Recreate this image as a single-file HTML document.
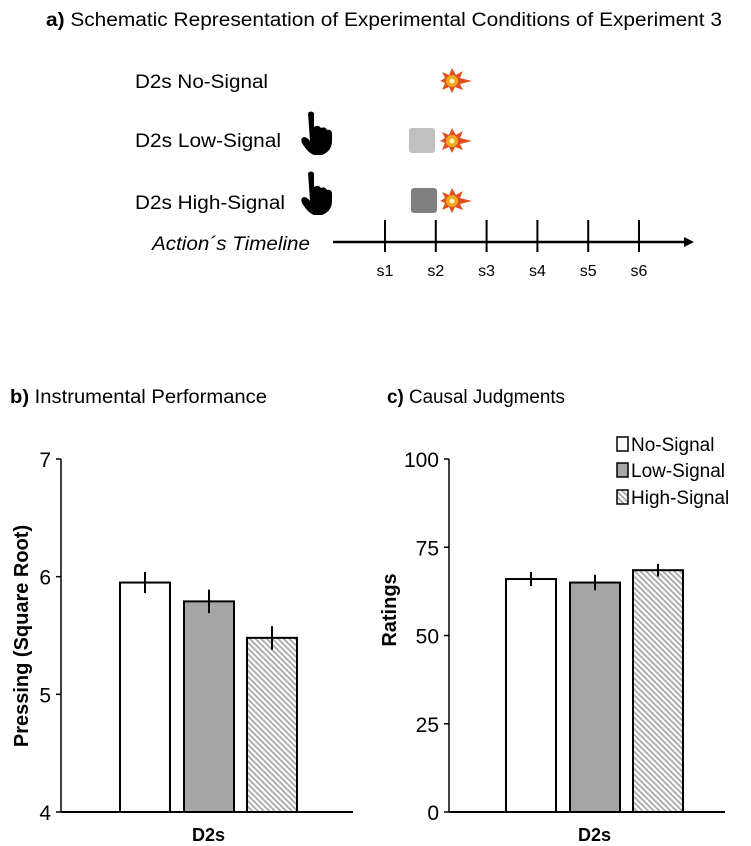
<!DOCTYPE html>
<html><head><meta charset="utf-8"><style>
body{margin:0;background:#fff}
svg{display:block;font-family:"Liberation Sans",Arial,sans-serif}
</style></head><body>
<svg id="fig" width="751" height="846" viewBox="0 0 751 846">
<defs>
<pattern id="hatch" width="4" height="4" patternUnits="userSpaceOnUse" patternTransform="rotate(-45)">
<rect width="4" height="4" fill="#fff"/><rect width="1.8" height="4" fill="#a8a8a8"/></pattern>
<g id="boom"><polygon points="0,-13 4,-6 11,-10 8,-3 20,0 8,3 11,9 3,6 0,12 -3,6 -10,9 -7,2 -12,0 -7,-3 -10,-9 -3,-6" fill="#e0501e"/><circle r="6" fill="#f5a623"/><circle r="2.5" fill="#fff6c0"/></g>
<g id="hand"><path d="M-4,-20 q3,-3 6,0 v14 q4,-3 7,1 q4,-2 6,2 q4,-1 5,3 v8 q0,10 -10,14 h-8 q-6,-2 -12,-12 q-2,-5 2,-6 q3,0 6,4 z" fill="#000"/></g>
</defs>
<text x="46" y="26" font-size="19" textLength="676" lengthAdjust="spacingAndGlyphs"><tspan font-weight="bold">a)</tspan> Schematic Representation of Experimental Conditions of Experiment 3</text>
<text x="135" y="88" font-size="19" textLength="133" lengthAdjust="spacingAndGlyphs">D2s No-Signal</text>
<text x="135" y="147" font-size="19" textLength="146" lengthAdjust="spacingAndGlyphs">D2s Low-Signal</text>
<text x="135" y="209" font-size="19" textLength="150" lengthAdjust="spacingAndGlyphs">D2s High-Signal</text>
<use href="#hand" x="312" y="133"/>
<use href="#hand" x="312" y="193"/>
<rect x="409" y="128" width="26" height="25" rx="3" fill="#c0c0c0"/>
<rect x="411" y="188" width="26" height="25" rx="3" fill="#808080"/>
<use href="#boom" x="452" y="81"/>
<use href="#boom" x="452" y="141"/>
<use href="#boom" x="452" y="201"/>
<text x="152" y="250" font-size="19" font-style="italic" textLength="158" lengthAdjust="spacingAndGlyphs">Action´s Timeline</text>
<line x1="333" y1="242" x2="685" y2="242" stroke="#000" stroke-width="2.5"/>
<polygon points="684,237 694,242 684,247" fill="#000"/>
<g id="tl"></g>
<text x="10" y="403" font-size="19" textLength="257" lengthAdjust="spacingAndGlyphs"><tspan font-weight="bold">b)</tspan> Instrumental Performance</text>
<text x="387" y="403" font-size="19" textLength="178" lengthAdjust="spacingAndGlyphs"><tspan font-weight="bold">c)</tspan> Causal Judgments</text>
<g id="chartB"></g>
<g id="chartC"></g>
<g>
<rect x="617" y="437" width="11" height="14" fill="#fff" stroke="#000" stroke-width="1.5"/>
<text x="631" y="451" font-size="19">No-Signal</text>
<rect x="617" y="463" width="11" height="14" fill="#a6a6a6" stroke="#000" stroke-width="1.5"/>
<text x="631" y="477" font-size="19">Low-Signal</text>
<rect x="617" y="490" width="11" height="14" fill="url(#hatch)" stroke="#000" stroke-width="1.5"/>
<text x="631" y="504" font-size="19">High-Signal</text>
</g>
</svg>
<script>
const NS="http://www.w3.org/2000/svg";
const tickSteps=["s1","s2","s3","s4","s5","s6"];
const categories=["No-Signal","Low-Signal","High-Signal"];
const pressValues=[5.95,5.79,5.48];
const pressErr=[0.09,0.1,0.1];
const ratingValues=[66,65,68.5];
const ratingErr=[2,2.2,1.8];
const pressTicks=[4,5,6,7];
const ratingTicks=[0,25,50,75,100];
const fills=["#fff","#a6a6a6","url(#hatch)"];
function mk(p,t,a){const e=document.createElementNS(NS,t);for(const k in a)e.setAttribute(k,a[k]);p.appendChild(e);return e;}
const tl=document.getElementById('tl');
tickSteps.forEach((s,i)=>{const x=385+i*50.8;
 const l=mk(tl,'line',{x1:x,y1:220,x2:x,y2:252,stroke:'#000','stroke-width':2});
 
 
 const t=mk(tl,'text',{x:x,y:276,'font-size':16,'text-anchor':'middle'});t.textContent=s;
 
 });
function chart(g,ax,axEnd,lo,hi,ticks,vals,errs,barX,title,titleX,titleY){
 const top=459,bot=812;const y=v=>bot-(v-lo)/(hi-lo)*(bot-top);
 mk(g,'line',{x1:ax,y1:top,x2:ax,y2:bot,stroke:'#000','stroke-width':1.5});
 ticks.forEach(t=>{mk(g,'line',{x1:ax-5,y1:y(t),x2:ax,y2:y(t),stroke:'#000','stroke-width':1.5});
  const tx=mk(g,'text',{x:ax-10,y:y(t)+8,'font-size':21,'text-anchor':'end'});tx.textContent=t;
  
  });
 vals.forEach((v,i)=>{const x=barX[i];
  const r=mk(g,'rect',{x:x,y:y(v),width:50,height:bot-y(v),fill:fills[i],stroke:'#000','stroke-width':2});
  
  
  const e=mk(g,'line',{x1:x+25,y1:y(v+errs[i]),x2:x+25,y2:y(v-errs[i]),stroke:'#000','stroke-width':2});
  
  });
 mk(g,'line',{x1:ax,y1:bot,x2:axEnd,y2:bot,stroke:'#000','stroke-width':2});
 const xl=mk(g,'text',{x:(barX[0]+barX[2]+50)/2,y:841,'font-size':18,'font-weight':'bold','text-anchor':'middle'});xl.textContent='D2s';
 
 
 const yt=mk(g,'text',{x:0,y:0,'font-size':20,'font-weight':'bold','text-anchor':'middle',transform:`translate(${titleX},${titleY}) rotate(-90)`});yt.textContent=title;
 
 }
chart(document.getElementById('chartB'),61,353,4,7,pressTicks,pressValues,pressErr,[120,184,247],'Pressing (Square Root)',28,636);
chart(document.getElementById('chartC'),449,725,0,100,ratingTicks,ratingValues,ratingErr,[506,570,633],'Ratings',396,610);
</script>
</body></html>
